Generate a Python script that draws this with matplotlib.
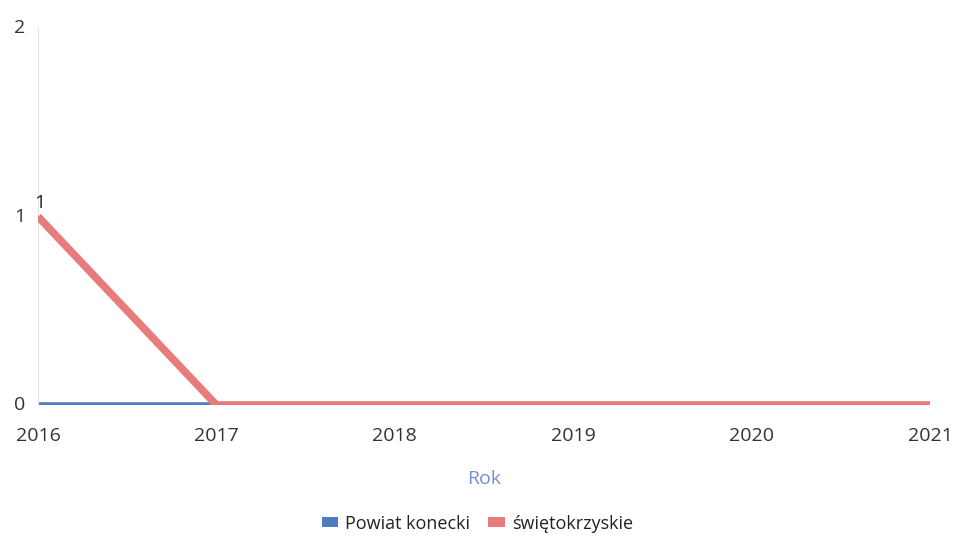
import matplotlib
matplotlib.use("Agg")
import matplotlib.pyplot as plt
from matplotlib.patches import Patch

# data
years = [2016, 2017, 2018, 2019, 2020, 2021]
powiat_konecki = [0, 0, 0, 0, 0, 0]
swietokrzyskie = [1, 0, 0, 0, 0, 0]
series_names = ["Powiat konecki", "świętokrzyskie"]
y_ticks = [0, 1, 2]

plt.rcParams['font.family'] = ['Open Sans', 'DejaVu Sans']

fig = plt.figure(figsize=(9.55, 5.41), dpi=100)
ax = fig.add_axes([0.0398, 0.2514, 0.934, 0.6966])

blue = '#4f7cbf'
red = '#e87b7b'

ax.plot(years, powiat_konecki, color=blue, lw=4, solid_capstyle='butt', zorder=2)
ax.plot(years, swietokrzyskie, color=red, lw=5.5, solid_capstyle='butt', zorder=3)

# data label at the only non-zero point
ax.annotate(str(swietokrzyskie[0]), (years[0], swietokrzyskie[0]),
            xytext=(1, 3), textcoords='offset points', ha='center', va='bottom',
            fontsize=14, color='#222222')

ax.set_xlim(years[0], years[-1])
ax.set_ylim(0, 2)
ax.set_xticks(years)
ax.set_yticks(y_ticks)
ax.tick_params(axis='both', length=0, labelsize=14, colors='#333333')
ax.tick_params(axis='y', pad=9)
ax.tick_params(axis='x', pad=16)
for lab in ax.get_yticklabels():
    lab.set_verticalalignment('center')

for side in ['top', 'right', 'bottom']:
    ax.spines[side].set_visible(False)
ax.spines['left'].set_color('#e4e4e4')
ax.spines['left'].set_linewidth(0.8)

ax.set_xlabel('Rok', fontsize=14, color='#7390d4', labelpad=18)

handles = [Patch(facecolor=blue, edgecolor='none'), Patch(facecolor=red, edgecolor='none')]
fig.legend(handles, series_names, loc='center', bbox_to_anchor=(0.5, 0.032),
           ncol=2, frameon=False, fontsize=13, handlelength=0.9, handleheight=0.5,
           handletextpad=0.4, columnspacing=1.0, labelcolor='#222222')

fig.savefig('out.png', dpi=100, facecolor='white')
